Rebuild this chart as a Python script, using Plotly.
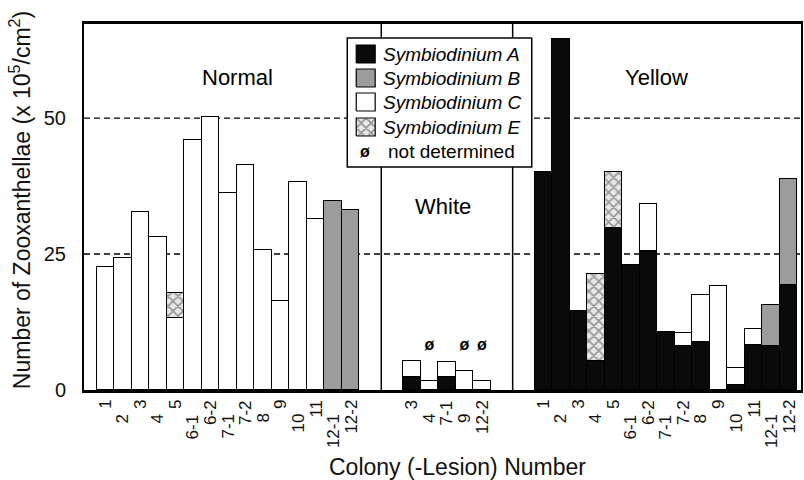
import plotly.graph_objects as go

# ---------------- data ----------------
normal_labels = ["1", "2", "3", "4", "5", "6-1", "6-2", "7-1", "7-2", "8", "9", "10", "11", "12-1", "12-2"]
normal_A = [0] * 15
normal_B = [0, 0, 0, 0, 0, 0, 0, 0, 0, 0, 0, 0, 0, 34.7, 33.1]
normal_C = [22.7, 24.3, 32.7, 28.2, 13.2, 46.0, 50.2, 36.3, 41.4, 25.7, 16.4, 38.3, 31.4, 0, 0]
normal_E = [0, 0, 0, 0, 4.6, 0, 0, 0, 0, 0, 0, 0, 0, 0, 0]

white_labels = ["3", "4", "7-1", "9", "12-2"]
white_A = [2.4, 0, 2.3, 0, 0]
white_B = [0, 0, 0, 0, 0]
white_C = [3.0, 1.7, 2.8, 3.5, 1.7]
white_E = [0, 0, 0, 0, 0]
white_not_determined = [False, True, False, True, True]

yellow_labels = ["1", "2", "3", "4", "5", "6-1", "6-2", "7-1", "7-2", "8", "9", "10", "11", "12-1", "12-2"]
yellow_A = [40.0, 64.6, 14.6, 5.3, 29.8, 22.9, 25.6, 10.7, 8.1, 8.9, 0, 0.9, 8.3, 8.0, 19.3]
yellow_B = [0, 0, 0, 0, 0, 0, 0, 0, 0, 0, 0, 0, 0, 7.6, 19.5]
yellow_C = [0, 0, 0, 0, 0, 0, 8.6, 0, 2.4, 8.6, 19.1, 3.1, 2.9, 0, 0]
yellow_E = [0, 0, 0, 16.0, 10.2, 0, 0, 0, 0, 0, 0, 0, 0, 0, 0]

section_names = ["Normal", "White", "Yellow"]
y_ticks = [0, 25, 50]
reference_lines = [25, 50]
nd_marker_height = 8.0

# ---------------- layout constants ----------------
FONT = "Liberation Sans, Arial, Helvetica, sans-serif"
W, H = 804, 480
ML, MR, MT, MB = 84, 1, 24, 90
XR = [-1.22, 39.71]
YR = [0, 67.3]
GAP = 3.5  # distance between last bar of a section and first of next

# positions of bars along the numeric x axis
normal_x = [i for i in range(len(normal_labels))]
white_x = [normal_x[-1] + GAP + i for i in range(len(white_labels))]
yellow_x = [white_x[-1] + GAP + i for i in range(len(yellow_labels))]
dividers = [(normal_x[-1] + white_x[0]) / 2, (white_x[-1] + yellow_x[0]) / 2]

all_x = normal_x + white_x + yellow_x
all_labels = normal_labels + white_labels + yellow_labels


def nz(v):
    return [None if a == 0 else a for a in v]


A = normal_A + white_A + yellow_A
B = normal_B + white_B + yellow_B
C = normal_C + white_C + yellow_C
E = normal_E + white_E + yellow_E

colA, colB, colC = "#0a0a0a", "#9c9c9c", "#ffffff"
hatch = dict(shape="x", size=7, solidity=0.4, fgcolor="#444444", bgcolor="#e8e8e8")
line = dict(color="black", width=1.2)

fig = go.Figure()
fig.add_bar(x=all_x, y=nz(A), width=1, marker=dict(color=colA, line=line), name="Symbiodinium A")
fig.add_bar(x=all_x, y=nz(B), width=1, marker=dict(color=colB, line=line), name="Symbiodinium B")
fig.add_bar(x=all_x, y=nz(C), width=1, marker=dict(color=colC, line=line), name="Symbiodinium C")
fig.add_bar(x=all_x, y=nz(E), width=1, marker=dict(color="#e8e8e8", pattern=hatch, line=line),
            name="Symbiodinium E")

# not determined markers
nd_x = [x for x, f in zip(white_x, white_not_determined) if f]
fig.add_scatter(x=nd_x, y=[nd_marker_height] * len(nd_x), mode="text", text=["ø"] * len(nd_x),
                textfont=dict(family=FONT, size=16, color="black", weight="bold"),
                textposition="middle center", hoverinfo="skip")

# pixel -> data helpers for legend placement
pw = W - ML - MR
ph = H - MT - MB


def px2x(p):
    return XR[0] + (p - ML) / pw * (XR[1] - XR[0])


def py2y(p):
    return YR[0] + (H - MB - p) / ph * (YR[1] - YR[0])


shapes = []
for v in reference_lines:
    shapes.append(dict(type="line", xref="paper", yref="y", x0=0, x1=1, y0=v, y1=v,
                       line=dict(color="black", width=1.4, dash="6px,4px"), layer="below"))
for d in dividers:
    shapes.append(dict(type="line", xref="x", yref="paper", x0=d, x1=d, y0=0, y1=1,
                       line=dict(color="black", width=1.5), layer="below"))
# legend box
shapes.append(dict(type="rect", xref="x", yref="y", x0=px2x(348), x1=px2x(533), y0=py2y(167), y1=py2y(38),
                   fillcolor="white", line=dict(color="black", width=1.5), layer="below"))

# legend swatches (drawn as filled scatter traces so the hatch can be shown)
legend_items = [("Symbiodinium A", colA, None), ("Symbiodinium B", colB, None),
                ("Symbiodinium C", colC, None), ("Symbiodinium E", "#e8e8e8", hatch)]
row_y = [54, 78, 102, 127, 151]
annotations = []
for (name, col, pat), ry in zip(legend_items, row_y):
    x0, x1 = px2x(357), px2x(376)
    y0, y1 = py2y(ry + 9), py2y(ry - 9)
    tr = dict(x=[x0, x1, x1, x0, x0], y=[y0, y0, y1, y1, y0], mode="lines", fill="toself",
              fillcolor=col, line=dict(color="black", width=1.2), hoverinfo="skip")
    if pat:
        tr["fillpattern"] = pat
    fig.add_scatter(**tr)
    annotations.append(dict(x=px2x(382), y=py2y(ry), xref="x", yref="y", text=name,
                            showarrow=False, xanchor="left", yanchor="middle",
                            font=dict(family=FONT, size=19, color="black", style="italic")))
annotations.append(dict(x=px2x(366), y=py2y(row_y[4]), xref="x", yref="y", text="ø",
                        showarrow=False, xanchor="center", yanchor="middle",
                        font=dict(family=FONT, size=16, color="black", weight="bold")))
annotations.append(dict(x=px2x(387), y=py2y(row_y[4]), xref="x", yref="y", text="not determined",
                        showarrow=False, xanchor="left", yanchor="middle",
                        font=dict(family=FONT, size=19, color="black")))

# section labels
section_pos = [(7.55, 57.5), (19.27, 33.8), (31.48, 57.5)]
for name, (sx, sy) in zip(section_names, section_pos):
    annotations.append(dict(x=sx, y=sy, xref="x", yref="y", text=name, showarrow=False,
                            font=dict(family=FONT, size=22, color="black")))

# staggered rotated tick labels
groups = [normal_x, white_x, yellow_x]
for g in groups:
    for i, x in enumerate(g):
        lab = all_labels[all_x.index(x)]
        annotations.append(dict(x=x, y=0, xref="x", yref="paper", text=lab, showarrow=False,
                                textangle=-90, xanchor="center", yanchor="top",
                                yshift=-8 if i % 2 == 0 else -22,
                                font=dict(family=FONT, size=17, color="#111111")))

# axis titles
annotations.append(dict(x=(459 - ML) / pw, y=0, xref="paper", yref="paper", yshift=-77,
                        text="Colony (-Lesion) Number", showarrow=False, yanchor="middle",
                        font=dict(family=FONT, size=23, color="#111111")))
annotations.append(dict(x=(20 - ML) / pw, y=(H - MB - 200) / ph, xref="paper", yref="paper",
                        text="Number of Zooxanthellae (x 10<sup>5</sup>/cm<sup>2</sup>)",
                        showarrow=False, textangle=-90, xanchor="center", yanchor="middle",
                        font=dict(family=FONT, size=23, color="#111111")))

fig.update_layout(
    width=W, height=H, margin=dict(l=ML, r=MR, t=MT, b=MB),
    barmode="stack", bargap=0, showlegend=False,
    plot_bgcolor="white", paper_bgcolor="white",
    shapes=shapes, annotations=annotations,
    xaxis=dict(range=XR, showticklabels=False, ticks="", showgrid=False, zeroline=False,
               showline=True, mirror=True, linecolor="black", linewidth=3),
    yaxis=dict(range=YR, tickvals=y_ticks, ticks="", showgrid=False, zeroline=False,
               showline=True, mirror=True, linecolor="black", linewidth=2,
               ticklabelstandoff=12, tickfont=dict(family=FONT, size=20, color="#111111")),
)

fig.write_html("out.html")
